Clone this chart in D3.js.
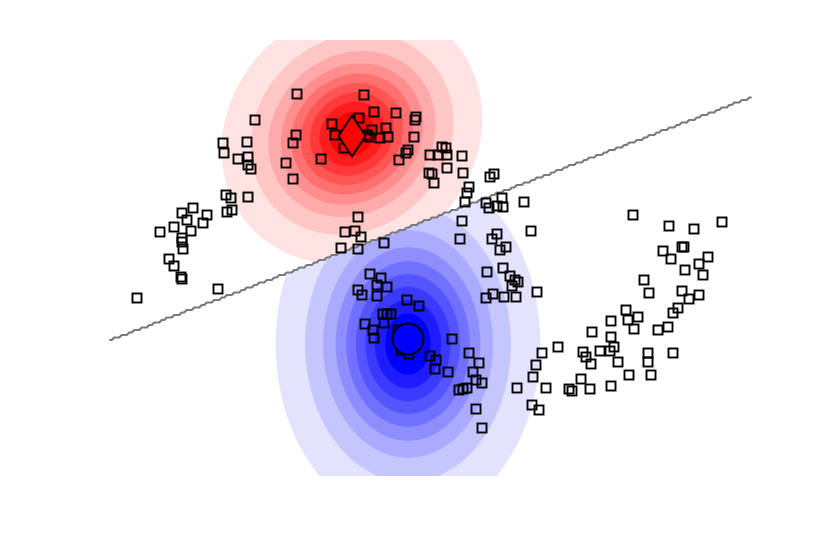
<!DOCTYPE html>
<html>
<head>
<meta charset="utf-8">
<script src="https://cdn.jsdelivr.net/npm/d3@7"></script>
<style>
  html, body { margin: 0; padding: 0; background: #fff; }
  svg { display: block; }
</style>
</head>
<body>
<svg id="chart" width="830" height="538"></svg>
<script>
// ---------- data ----------
// upper moon samples
const upperX = [-1.03,-0.36,-1.45,-0.26,-0.04,0.16,0.15,-0.68,-0.41,-0.65,-0.28,-0.14,-0.31,-0.20,-0.12,-0.56,-1.04,-1.07,-1.77,-1.53,-1.76,-1.62,-1.52,-1.52,-1.49,-1.14,-1.07,-0.79,0.14,0.08,0.06,-0.01,0.30,0.42,0.46,0.38,0.47,0.62,0.29,0.32,0.47,0.63,0.34,0.90,0.94,0.69,0.67,0.65,0.86,0.89,1.02,1.03,0.97,1.24,0.62,0.60,-1.74,-1.69,-1.52,-1.73,-1.68,-2.07,-2.18,-2.13,-1.93,-1.97,-2.26,-2.09,-2.40,-2.18,-2.18,-2.17,-2.31,-2.26,-2.19,-2.18,-2.63,-1.82,-0.42,-0.55,-0.45,-0.39,-0.59,-0.42,-0.16,0.97,0.92,1.00,1.06,1.31,-0.33];
const upperY = [2.06,2.05,1.80,1.88,1.87,1.83,1.80,1.76,1.82,1.65,1.70,1.72,1.63,1.62,1.63,1.52,1.65,1.57,1.57,1.58,1.47,1.41,1.43,1.35,1.31,1.37,1.21,1.41,1.63,1.50,1.47,1.40,1.45,1.53,1.52,1.45,1.45,1.44,1.27,1.26,1.32,1.27,1.17,1.23,1.26,1.13,1.07,0.98,0.97,0.92,1.02,0.93,0.94,0.98,0.79,0.61,1.05,1.02,1.03,0.88,0.90,0.92,0.87,0.80,0.85,0.77,0.73,0.69,0.68,0.62,0.58,0.51,0.41,0.34,0.23,0.21,0.02,0.11,0.83,0.68,0.69,0.63,0.52,0.51,0.57,0.66,0.61,0.50,0.53,0.69,1.65];
// lower moon samples
const lowerX = [-0.30,-0.19,-0.23,-0.13,-0.42,-0.38,-0.23,0.07,0.19,-0.17,-0.13,-0.09,-0.16,-0.35,-0.27,-0.26,-0.02,0.01,0.09,0.52,0.30,0.36,0.35,0.48,0.69,0.79,0.73,0.76,0.82,0.59,0.63,0.67,0.76,0.82,1.17,0.87,1.03,1.10,1.15,1.18,1.12,0.93,0.86,1.04,1.16,1.37,
  2.33,2.69,2.94,3.22,2.63,2.82,2.84,2.71,3.08,2.99,2.85,3.03,2.44,2.49,2.82,2.99,2.89,2.78,2.73,2.26,2.38,2.28,2.34,2.11,2.58,2.68,1.92,2.11,1.58,1.42,1.83,1.86,1.91,2.00,2.10,2.14,2.18,2.48,2.48,2.73,2.29,2.51,1.81,1.46,1.69,1.72,1.90,2.11,1.36,1.33,1.32,1.39];
const lowerY = [0.26,0.22,0.15,0.13,0.10,0.05,0.04,0.00,-0.06,-0.14,-0.14,-0.14,-0.23,-0.24,-0.30,-0.38,-0.30,-0.50,-0.54,-0.39,-0.56,-0.60,-0.69,-0.72,-0.53,-0.63,-0.72,-0.80,-0.83,-0.90,-0.89,-0.88,-1.09,-1.28,-0.88,0.28,0.32,0.24,0.20,0.18,0.14,0.06,0.02,0.03,0.03,0.08,
  0.85,0.74,0.71,0.78,0.49,0.53,0.53,0.41,0.43,0.36,0.30,0.25,0.20,0.07,0.09,0.05,0.01,-0.08,-0.13,-0.10,-0.17,-0.20,-0.29,-0.21,-0.30,-0.27,-0.32,-0.37,-0.47,-0.53,-0.52,-0.57,-0.64,-0.51,-0.51,-0.47,-0.62,-0.53,-0.62,-0.53,-0.75,-0.75,-0.79,-0.88,-0.89,-0.91,-0.89,-0.86,-0.65,-0.77,-1.05,-1.10];

// class markers (diamond = class A, circle = class B)
const markerA = [-0.48, 1.64];
const markerB = [0.08, -0.39];
// class density centres and covariances [[sxx, sxy],[sxy, syy]]
const centerA = [-0.48, 1.66];
const covA = [[0.2376, 0.0289], [0.0289, 0.2343]];
const centerB = [0.08, -0.44];
const covB = [[0.2450, 0.0], [0.0, 0.4400]];
// density contour levels (fraction of peak)
const levels = [0.028, 0.115, 0.23, 0.345, 0.46, 0.575, 0.69, 0.80, 0.90];
// evaluation grid extents
const gridX = [-2.92, 3.52];
const gridY = [-1.76, 2.60];
// decision boundary end points
const boundaryX = [-2.92, 3.52];
const boundaryY = [-0.41, 2.03];

// ---------- scales ----------
const x = d3.scaleLinear().domain([-4, 4.3]).range([0, 830]);
const y = d3.scaleLinear().domain([3, -2.38]).range([0, 538]);
const svg = d3.select("#chart");

const slope = (boundaryY[1] - boundaryY[0]) / (boundaryX[1] - boundaryX[0]);
const side = (a, b) => (b > boundaryY[0] + slope * (a - boundaryX[0]) ? 1 : 0);

function gridValues(fn, nX, nY, st) {
  const v = new Float64Array(nX * nY);
  for (let j = 0; j < nY; j++) {
    const gy = gridY[1] - (j + 0.5) * st;
    for (let i = 0; i < nX; i++) {
      const gx = gridX[0] + (i + 0.5) * st;
      v[j * nX + i] = fn(gx, gy);
    }
  }
  return v;
}
function projFor(st) {
  return d3.geoPath(d3.geoTransform({
    point: function (gx, gy) {
      this.stream.point(x(gridX[0] + gx * st), y(gridY[1] - gy * st));
    }
  }));
}

// ---------- density contours (each class shown on its own side) ----------
const step = 0.02;
const nx = Math.round((gridX[1] - gridX[0]) / step);
const ny = Math.round((gridY[1] - gridY[0]) / step);
const pathD = projFor(step);

function densityFn(m, S) {
  const det = S[0][0] * S[1][1] - S[0][1] * S[0][1];
  const i00 = S[1][1] / det, i01 = -S[0][1] / det, i11 = S[0][0] / det;
  return (px, py) => {
    const dx = px - m[0], dy = py - m[1];
    return Math.exp(-0.5 * (i00 * dx * dx + 2 * i01 * dx * dy + i11 * dy * dy));
  };
}
function drawDensity(m, S, rgb, keepSide) {
  const f = densityFn(m, S);
  const vals = gridValues((a, b) => (side(a, b) === keepSide ? f(a, b) : 0), nx, ny, step);
  const cs = d3.contours().size([nx, ny]).thresholds(levels)(vals);
  const g = svg.append("g");
  cs.forEach((c, k) => {
    const t = (k + 1) / levels.length;
    g.append("path")
      .attr("d", pathD(c))
      .attr("fill", d3.interpolateRgb("#ffffff", rgb)(t))
      .attr("stroke", "none");
  });
}
drawDensity(centerA, covA, "#ff0000", 1);
drawDensity(centerB, covB, "#0000ff", 0);

// ---------- jagged decision boundary (label contour on a grid) ----------
const bStep = 0.025;
const bnx = Math.round((gridX[1] - gridX[0]) / bStep);
const bny = Math.round((gridY[1] - gridY[0]) / bStep);
const labels = gridValues(side, bnx, bny, bStep);
const bc = d3.contours().size([bnx, bny]).thresholds([0.5])(labels);
let bd = "";
const T = p => x(gridX[0] + p[0] * bStep).toFixed(2) + "," + y(gridY[1] - p[1] * bStep).toFixed(2);
const nearTB = p => p[1] < 0.6 || p[1] > bny - 0.6;
const bothLR = (a, b) => (a[0] <= 0.5 && b[0] <= 0.5) || (a[0] >= bnx - 0.5 && b[0] >= bnx - 0.5);
bc[0].coordinates.forEach(poly => poly.forEach(ring => {
  let pen = false;
  for (let i = 0; i < ring.length - 1; i++) {
    const a = ring[i], b = ring[i + 1];
    if (nearTB(a) || nearTB(b) || bothLR(a, b)) { pen = false; continue; }
    if (!pen) { bd += "M" + T(a); pen = true; }
    bd += "L" + T(b);
  }
}));
svg.append("path").attr("d", bd).attr("fill", "none")
  .attr("stroke", "#7a7a7a").attr("stroke-width", 2.2).attr("stroke-linejoin", "round");

// ---------- samples ----------
const sq = 9;
const pts = upperX.map((v, i) => [v, upperY[i]]).concat(lowerX.map((v, i) => [v, lowerY[i]]));
svg.append("g").selectAll("rect").data(pts).enter().append("rect")
  .attr("x", d => x(d[0]) - sq / 2)
  .attr("y", d => y(d[1]) - sq / 2)
  .attr("width", sq).attr("height", sq)
  .attr("fill", "none").attr("stroke", "#000").attr("stroke-width", 1.9);

// ---------- class markers ----------
const dw = 13.5, dh = 20.5;
const cx = x(markerA[0]), cy = y(markerA[1]);
svg.append("path")
  .attr("d", `M${cx},${cy - dh}L${cx + dw},${cy}L${cx},${cy + dh}L${cx - dw},${cy}Z`)
  .attr("fill", "#ff0000").attr("stroke", "#000").attr("stroke-width", 2);
svg.append("circle")
  .attr("cx", x(markerB[0])).attr("cy", y(markerB[1])).attr("r", 15.5)
  .attr("fill", "#0000ff").attr("stroke", "#000").attr("stroke-width", 2);
</script>
</body>
</html>
